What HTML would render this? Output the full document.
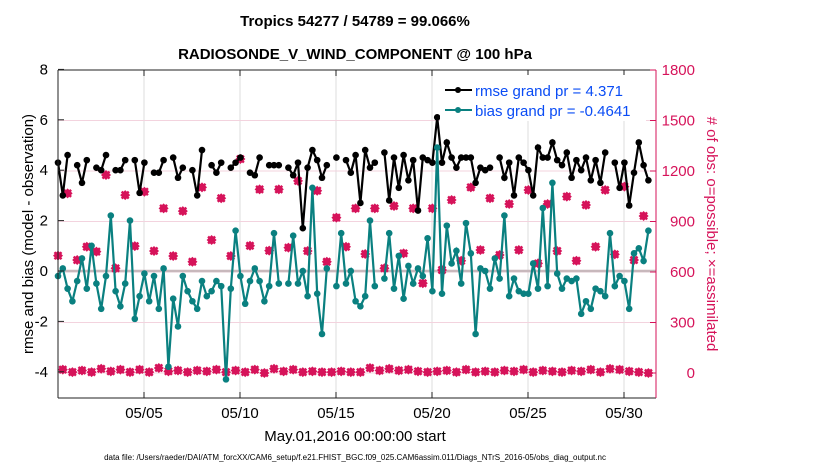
<!DOCTYPE html>
<html><head><meta charset="utf-8">
<style>
body{margin:0;background:#fff;width:830px;height:470px;overflow:hidden;font-family:"Liberation Sans",sans-serif;}
svg text{font-family:"Liberation Sans",sans-serif;}
</style></head>
<body>
<svg id="chart" width="830" height="470" xmlns="http://www.w3.org/2000/svg">
<text x="355" y="26" font-size="15" font-weight="bold" text-anchor="middle">Tropics 54277 / 54789 = 99.066%</text>
<text x="355" y="59" font-size="15" font-weight="bold" text-anchor="middle">RADIOSONDE_V_WIND_COMPONENT @ 100 hPa</text>
<g id="grid"></g>
<g id="marks"></g>
<g id="axes"></g>
<text transform="translate(33,234) rotate(-90)" font-size="15" text-anchor="middle">rmse and bias (model - observation)</text>
<text transform="translate(707,234) rotate(90)" font-size="15" text-anchor="middle" fill="#d6135a"># of obs: o=possible; ×=assimilated</text>
<text x="355" y="441" font-size="15" text-anchor="middle">May.01,2016 00:00:00 start</text>
<text x="355" y="460" font-size="8" text-anchor="middle">data file: /Users/raeder/DAI/ATM_forcXX/CAM6_setup/f.e21.FHIST_BGC.f09_025.CAM6assim.011/Diags_NTrS_2016-05/obs_diag_output.nc</text>
<g>
<rect x="440" y="75" width="206" height="46" fill="#fff"/>
<line x1="445" y1="90" x2="472" y2="90" stroke="#000" stroke-width="2"/><circle cx="458" cy="90" r="3" fill="#000"/>
<text x="475" y="96" font-size="15" fill="#0a4cf5">rmse grand pr = 4.371</text>
<line x1="445" y1="110" x2="472" y2="110" stroke="#0a8080" stroke-width="2"/><circle cx="458" cy="110" r="3" fill="#0a8080"/>
<text x="475" y="116" font-size="15" fill="#0a4cf5">bias grand pr = -0.4641</text>
</g>
</svg>
<script>
const rmse=[4.3,3.0,4.6,null,4.2,3.5,4.4,null,4.1,4.0,4.6,null,4.0,4.0,4.4,null,4.4,3.1,4.3,null,3.9,3.9,4.4,null,4.5,3.7,4.1,null,4.0,3.0,4.8,null,4.2,3.9,4.3,null,4.1,4.3,4.5,null,3.9,3.8,4.5,null,4.2,4.2,4.2,null,4.1,3.8,4.3,1.7,4.1,4.8,4.4,3.7,4.2,null,4.5,null,4.4,3.9,4.6,2.7,4.8,4.1,4.3,null,4.7,2.8,4.5,3.3,4.6,3.6,4.4,2.4,4.5,4.4,4.3,6.1,4.3,5.1,4.5,4.1,4.5,4.5,4.5,3.5,4.1,4.0,4.1,null,4.5,3.7,4.3,3.0,4.5,4.3,4.0,3.0,4.9,4.5,4.5,5.1,4.4,4.2,4.7,3.7,4.4,4.0,4.5,3.6,4.4,3.5,4.7,null,4.3,3.3,4.3,2.6,3.9,5.1,4.2,3.6];
const bias=[-0.2,0.1,-0.7,-1.2,-0.4,0.5,-0.7,1.0,-0.5,-1.5,-0.2,2.2,-0.8,-1.4,-0.5,2.0,-1.9,-1.0,-0.1,-1.2,-0.2,-1.5,0.1,-3.8,-1.1,-2.2,-0.2,-0.8,-1.2,-1.5,-0.4,-1.0,-0.8,-0.4,-0.6,-4.3,-0.7,1.6,-0.2,-1.3,-0.4,0.1,-0.4,-1.2,-0.6,1.5,-0.5,null,-0.5,1.4,-0.5,0.0,-1.0,3.3,-0.9,-2.5,0.1,null,-0.6,1.5,-0.5,0.0,-1.2,-1.4,-1.0,2.0,-0.6,null,-0.3,1.5,-0.7,0.6,-1.1,0.2,-0.5,0.1,-0.2,1.3,-0.8,4.9,-0.9,1.8,0.3,0.8,-0.5,1.9,0.7,-2.5,0.1,0.0,-0.7,0.5,-0.3,2.2,-1.0,-0.3,-0.8,-0.9,-0.9,0.3,-0.7,2.5,-0.6,3.5,-0.1,-0.7,-0.3,-0.4,-0.3,-1.7,-1.2,-1.5,-0.7,-0.8,-1.0,1.5,-0.6,-0.2,-0.4,-1.5,0.7,0.9,0.4,1.6];
const obsHigh=[697,1067,671,750,721,1176,622,1057,754,1077,725,978,695,962,661,1103,790,1038,695,1271,756,1091,727,1091,745,1141,725,1083,661,923,750,978,707,978,622,992,711,978,533,978,612,1028,667,1103,731,1038,701,1004,731,1087,651,1004,725,1048,667,998,750,1087,705,1107,671,933];
const obsLow=[20,5,15,5,25,10,20,5,20,5,30,10,15,5,15,10,20,5,15,5,20,0,25,10,20,5,10,5,5,10,5,5,30,15,25,15,20,10,5,10,15,5,20,5,10,5,15,10,20,5,15,10,5,15,10,20,5,25,20,10,5,0];
const yTicksL=[-4,-2,0,2,4,6,8];
const yTicksR=[0,300,600,900,1200,1500,1800];
const xTickDays=[5,10,15,20,25,30];
const xTickLabels=["05/05","05/10","05/15","05/20","05/25","05/30"];

const L=58,R=656,T=70,B=398,NS="http://www.w3.org/2000/svg";
const xi=i=>L+i*4.8;
const xd=d=>67.2+(d-1)*19.2;
const yl=v=>271-v*25.2;
const yr=v=>373-v*50.5/300;
function mk(p,tag,at){const e=document.createElementNS(NS,tag);for(const k in at)e.setAttribute(k,at[k]);p.appendChild(e);return e;}
const grid=document.getElementById('grid'),marks=document.getElementById('marks'),axes=document.getElementById('axes');
xTickDays.forEach(d=>{const e=mk(grid,'line',{x1:xd(d),x2:xd(d),y1:T,y2:B,stroke:'#dcdcdc','stroke-width':1});

});
yTicksR.forEach(v=>{const e=mk(grid,'line',{x1:L,x2:R,y1:yr(v),y2:yr(v),stroke:'#f3d3de','stroke-width':1});

});
const z=mk(grid,'line',{x1:L,x2:R,y1:yl(0),y2:yl(0),stroke:'#c8b8bc','stroke-width':2.5});


function series(arr,col,name){
 let d='';let pen=false;
 arr.forEach((v,i)=>{if(v===null){pen=false;return;}d+=(pen?'L':'M')+xi(i)+' '+yl(v)+' ';pen=true;});
 const p=mk(marks,'path',{d:d,fill:'none',stroke:col,'stroke-width':2.2});
 
 
 arr.forEach((v,i)=>{if(v===null)return;const c=mk(marks,'circle',{cx:xi(i),cy:yl(v),r:3.3,fill:col});
 
 });
}
function obsMark(x,y){
 const g=mk(marks,'g',{});
 
 
 mk(g,'path',{d:`M${x-5} ${y}L${x} ${y-5}L${x+5} ${y}L${x} ${y+5}Z`,fill:'#d6135a'});
 mk(g,'path',{d:`M${x-3.5} ${y-3.5}L${x+3.5} ${y+3.5}M${x-3.5} ${y+3.5}L${x+3.5} ${y-3.5}`,stroke:'#d6135a','stroke-width':2.4});
}
obsHigh.forEach((v,k)=>obsMark(xi(2*k),yr(v)));
obsLow.forEach((v,k)=>obsMark(xi(2*k+1),yr(v)));
series(rmse,'#000','rmse');
series(bias,'#0a8080','bias');
// axes
mk(axes,'line',{x1:L,x2:L,y1:T,y2:B,stroke:'#222','stroke-width':1});
mk(axes,'line',{x1:L,x2:R,y1:T,y2:T,stroke:'#222','stroke-width':1});
mk(axes,'line',{x1:L,x2:R,y1:B,y2:B,stroke:'#222','stroke-width':1});
mk(axes,'line',{x1:R,x2:R,y1:T,y2:B,stroke:'#d6135a','stroke-width':1});
yTicksL.forEach(v=>{mk(axes,'line',{x1:L,x2:L+6,y1:yl(v),y2:yl(v),stroke:'#222'});
 const t=mk(axes,'text',{x:L-10,y:yl(v)+5,'font-size':15,'text-anchor':'end'});t.textContent=v;
 
 });
yTicksR.forEach(v=>{mk(axes,'line',{x1:R-6,x2:R,y1:yr(v),y2:yr(v),stroke:'#d6135a'});
 const t=mk(axes,'text',{x:695,y:yr(v)+5,'font-size':15,fill:'#d6135a','text-anchor':'end'});t.textContent=v;
 
 });
xTickDays.forEach((d,k)=>{mk(axes,'line',{x1:xd(d),x2:xd(d),y1:B,y2:B-6,stroke:'#222'});
 mk(axes,'line',{x1:xd(d),x2:xd(d),y1:T,y2:T+6,stroke:'#222'});
 const t=mk(axes,'text',{x:xd(d),y:B+20,'font-size':15,'text-anchor':'middle'});t.textContent=xTickLabels[k];
 
 });
</script>
</body></html>
